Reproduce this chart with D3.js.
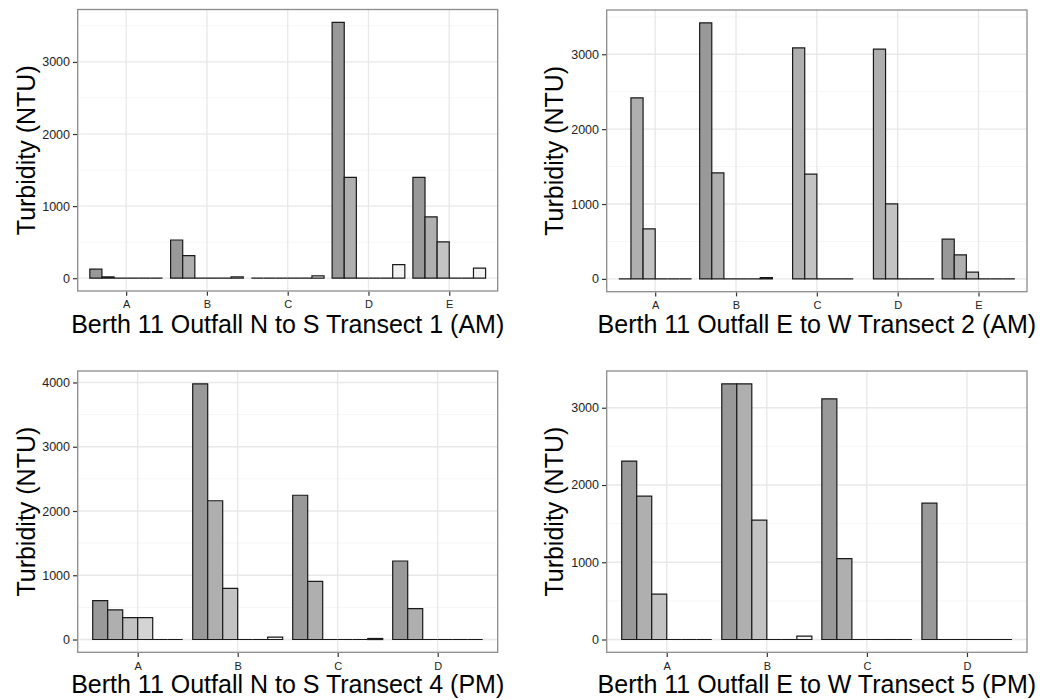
<!DOCTYPE html>
<html>
<head>
<meta charset="utf-8">
<script src="https://cdn.jsdelivr.net/npm/d3@7"></script>
<style>
  html, body { margin: 0; padding: 0; background: #fff; }
  svg { display: block; }
  text { font-family: "Liberation Sans", Arial, sans-serif; }
</style>
</head>
<body>
<svg id="chart" width="1051" height="700"></svg>
<script>
// Turbidity readings at Berth 11 outfall, four transects.
// Each station carries six dodged readings (null = not sampled).
const t1Stations = ["A", "B", "C", "D", "E"];
const t1Values = [
  [125, 18, 0, 0, 0, 0],
  [530, 314, 0, 0, 0, 20],
  [0, 0, 0, 0, 0, 32],
  [3550, 1400, 0, 0, 0, 188],
  [1400, 850, 505, 0, 0, 140]
];
const t1Title = "Berth 11 Outfall N to S Transect 1 (AM)";

const t2Stations = ["A", "B", "C", "D", "E"];
const t2Values = [
  [0, 2418, 668, 0, 0, 0],
  [3420, 1415, 0, 0, 0, 18],
  [null, 3085, 1398, 0, 0, 0],
  [null, 3068, 1001, 0, 0, 0],
  [530, 320, 90, 0, 0, 0]
];
const t2Title = "Berth 11 Outfall E to W Transect 2 (AM)";

const t4Stations = ["A", "B", "C", "D"];
const t4Values = [
  [605, 462, 342, 342, 0, 0],
  [3980, 2160, 795, 0, 0, 38],
  [2245, 905, 0, 0, 0, 16],
  [1222, 482, 0, 0, 0, 0]
];
const t4Title = "Berth 11 Outfall N to S Transect 4 (PM)";

const t5Stations = ["A", "B", "C", "D"];
const t5Values = [
  [2310, 1855, 588, 0, 0, 0],
  [3310, 3310, 1545, 0, 0, 45],
  [3115, 1046, 0, 0, 0, 0],
  [1765, 0, 0, 0, 0, 0]
];
const t5Title = "Berth 11 Outfall E to W Transect 5 (PM)";

const yAxisTitle = "Turbidity (NTU)";
const seriesFills = ["#999999", "#afafaf", "#c3c3c3", "#d4d4d4", "#e4e4e4", "#f2f2f2"];

// Panel frames (plot area in page pixels) and title anchors.
const panels = [
  { stations: t1Stations, values: t1Values, title: t1Title,
    left: 77.7, right: 497.7, top: 9.5, bottom: 291, yTitleX: 35, xTitleY: 333 },
  { stations: t2Stations, values: t2Values, title: t2Title,
    left: 606.7, right: 1027, top: 10, bottom: 291.7, yTitleX: 563, xTitleY: 333 },
  { stations: t4Stations, values: t4Values, title: t4Title,
    left: 77.7, right: 497.7, top: 371, bottom: 652.3, yTitleX: 35, xTitleY: 693 },
  { stations: t5Stations, values: t5Values, title: t5Title,
    left: 606.7, right: 1027, top: 371, bottom: 652.3, yTitleX: 563, xTitleY: 693 }
];

const svg = d3.select("#chart");

panels.forEach(p => {
  const g = svg.append("g");

  // Discrete x axis: stations at integer positions, 0.6 of a step padding each side.
  const x = d3.scalePoint().domain(p.stations).range([p.left, p.right]).padding(0.6);
  const step = x.step();
  const slot = d3.scaleBand().domain(d3.range(6))
    .range([-0.45 * step, 0.45 * step]).padding(0);

  const maxV = d3.max(p.values.flat().filter(v => v != null));
  const y = d3.scaleLinear().domain([-0.05 * maxV, 1.05 * maxV]).range([p.bottom, p.top]);
  const majorTicks = d3.range(0, 1.05 * maxV, 1000);
  const minorTicks = d3.range(500, 1.05 * maxV, 1000);

  // grid
  g.selectAll(".minor").data(minorTicks).join("line")
    .attr("x1", p.left).attr("x2", p.right)
    .attr("y1", d => y(d)).attr("y2", d => y(d))
    .attr("stroke", "#f6f6f6").attr("stroke-width", 1);
  g.selectAll(".majorY").data(majorTicks).join("line")
    .attr("x1", p.left).attr("x2", p.right)
    .attr("y1", d => y(d)).attr("y2", d => y(d))
    .attr("stroke", "#e8e8e8").attr("stroke-width", 1.3);
  g.selectAll(".majorX").data(p.stations).join("line")
    .attr("x1", d => x(d)).attr("x2", d => x(d))
    .attr("y1", p.top).attr("y2", p.bottom)
    .attr("stroke", "#e8e8e8").attr("stroke-width", 1.3);

  // bars (drawn as closed paths so zero readings still show their outline)
  const bars = [];
  p.values.forEach((row, i) => {
    row.forEach((v, j) => {
      if (v != null) bars.push({ station: p.stations[i], series: j, value: v });
    });
  });
  g.selectAll(".bar").data(bars).join("path")
    .attr("d", d => {
      const x0 = x(d.station) + slot(d.series);
      const w = slot.bandwidth();
      const y0 = y(0), y1 = y(d.value);
      return `M${x0},${y0}H${x0 + w}V${y1}H${x0}Z`;
    })
    .attr("fill", d => seriesFills[d.series])
    .attr("stroke", "#1a1a1a").attr("stroke-width", 1.2);

  // panel border
  g.append("rect")
    .attr("x", p.left).attr("y", p.top)
    .attr("width", p.right - p.left).attr("height", p.bottom - p.top)
    .attr("fill", "none").attr("stroke", "#8c8c8c").attr("stroke-width", 1.3);

  // y axis
  const yAxis = d3.axisLeft(y).tickValues(majorTicks).tickSize(4).tickPadding(3)
    .tickFormat(d3.format("d"));
  const ya = g.append("g").attr("transform", `translate(${p.left - 0.7},0)`).call(yAxis);
  ya.select(".domain").remove();
  ya.selectAll(".tick line").attr("stroke", "#333").attr("stroke-width", 1.2);
  ya.selectAll(".tick text").attr("fill", "#222")
    .style("font-size", "12.5px").style("font-family", "Liberation Sans, Arial, sans-serif");

  // x axis
  const xAxis = d3.axisBottom(x).tickSize(4).tickPadding(5);
  const xa = g.append("g").attr("transform", `translate(0,${p.bottom + 0.7})`).call(xAxis);
  xa.select(".domain").remove();
  xa.selectAll(".tick line").attr("stroke", "#333").attr("stroke-width", 1.2);
  xa.selectAll(".tick text").attr("fill", "#222")
    .style("font-size", "11px").style("font-family", "Liberation Sans, Arial, sans-serif");

  // titles
  g.append("text")
    .attr("x", (p.left + p.right) / 2).attr("y", p.xTitleY)
    .attr("text-anchor", "middle").attr("fill", "#000")
    .style("font-size", "25px").text(p.title);
  g.append("text")
    .attr("transform", `translate(${p.yTitleX},${(p.top + p.bottom) / 2}) rotate(-90)`)
    .attr("text-anchor", "middle").attr("fill", "#000")
    .style("font-size", "25px").text(yAxisTitle);
});
</script>
</body>
</html>
